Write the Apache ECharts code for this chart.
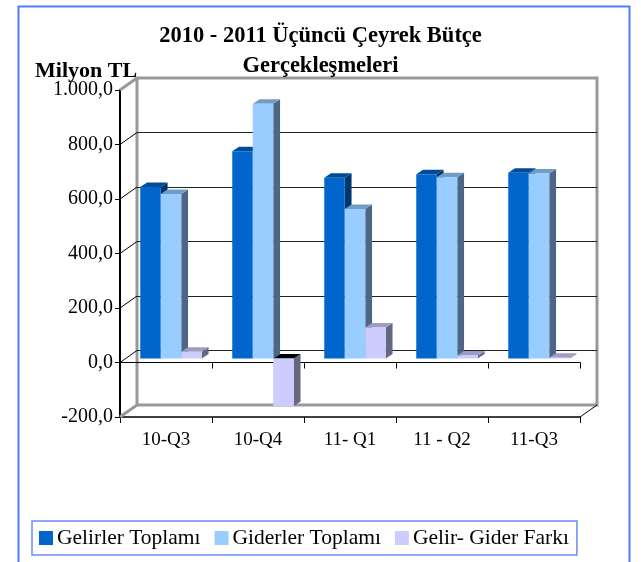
<!DOCTYPE html>
<html>
<head>
<meta charset="utf-8">
<script src="https://cdn.jsdelivr.net/npm/echarts@6/dist/echarts.min.js"></script>
<style>
html,body{margin:0;padding:0;background:#fff;}
#chart{width:641px;height:562px;}
</style>
</head>
<body>
<div id="chart"></div>
<script>
// ---- data ----
const categories = ['10-Q3', '10-Q4', '11- Q1', '11 - Q2', '11-Q3'];
const gelirler = [629, 761, 663, 676, 682];
const giderler = [604, 935, 549, 665, 679];
const fark = [25, -174, 114, 11, 3];
const seriesNames = ['Gelirler Toplamı', 'Giderler Toplamı', 'Gelir- Gider Farkı'];
const yMin = -200, yMax = 1000, yStep = 200;
const yTicks = [-200, 0, 200, 400, 600, 800, 1000];

// ---- 3D look ----
const DX = 17, DY = 12;           // wall depth
const BDX = 6.8, BDY = 4.5;       // bar depth
const SHX = 5, SHY = 4;           // bar offset from front plane
const BAR_FRAC = 0.2228;
const FONT = '"Liberation Serif", "Times New Roman", serif';

const palettes = [
  {front: '#0066CC', top: '#004C99', side: '#00366B', neg: '#000000'},
  {front: '#99CCFF', top: '#729CC6', side: '#4D6685', neg: '#000000'},
  {front: '#CCCCFF', top: '#9C9CC4', side: '#666680', neg: '#000000'}
];

function fmt(v) {
  const s = Math.abs(v).toFixed(1).split('.');
  const i = s[0].replace(/\B(?=(\d{3})+(?!\d))/g, '.');
  return (v < 0 ? '-' : '') + i + ',' + s[1];
}

function barSeries(name, values, idx) {
  const p = palettes[idx];
  return {
    name: name,
    type: 'custom',
    xAxisIndex: 0, yAxisIndex: 0,
    itemStyle: {color: p.front},
    z: 3 + idx,
    data: values.map((v, i) => [i, v]),
    renderItem: function (params, api) {
      const ci = api.value(0), v = api.value(1);
      const c = api.coord([ci, v]);
      const b = api.coord([ci, 0]);
      const band = api.size([1, 0])[0];
      const w = band * BAR_FRAC;
      const x0 = c[0] - 1.5 * w + idx * w + SHX;
      const yv = c[1] - SHY, yb = b[1] - SHY;
      const yT = Math.min(yv, yb), yB = Math.max(yv, yb);
      const topColor = v < 0 ? p.neg : p.top;
      return {
        type: 'group',
        children: [
          {type: 'polygon', shape: {points: [[x0 + w, yT], [x0 + w + BDX, yT - BDY], [x0 + w + BDX, yB - BDY], [x0 + w, yB]]},
            style: {fill: p.side}},
          {type: 'polygon', shape: {points: [[x0, yT], [x0 + w, yT], [x0 + w + BDX, yT - BDY], [x0 + BDX, yT - BDY]]},
            style: {fill: topColor}},
          {type: 'rect', shape: {x: x0, y: yT, width: w, height: Math.max(yB - yT, 0.5)},
            style: {fill: p.front}}
        ]
      };
    }
  };
}

const frameData = yTicks.map(v => [0, v, (v === yMin || v === yMax) ? 1 : 0]).concat([[0, yMin, 2]]);

const chart = echarts.init(document.getElementById('chart'), null, {renderer: 'canvas'});
const option = {
  backgroundColor: '#ffffff',
  animation: false,
  title: [
    {text: '2010 - 2011 Üçüncü Çeyrek Bütçe\nGerçekleşmeleri', left: 'center', top: 16,
      textStyle: {fontFamily: FONT, fontSize: 22.5, fontWeight: 'bold', color: '#000', lineHeight: 30}},
    {text: 'Milyon TL', left: 30, top: 55,
      textStyle: {fontFamily: FONT, fontSize: 22, fontWeight: 'bold', color: '#000'}}
  ],
  graphic: [
    {type: 'rect', left: 16, top: 4, shape: {width: 611, height: 620}, silent: true,
      style: {fill: 'none', stroke: '#4F7CFF', lineWidth: 2}}
  ],
  legend: {
    data: seriesNames,
    left: 32, top: 521,
    orient: 'horizontal',
    icon: 'rect',
    itemWidth: 14, itemHeight: 14, itemGap: 14,
    padding: [6, 8, 6, 7],
    borderColor: '#6D8CF0', borderWidth: 1.5,
    textStyle: {fontFamily: FONT, fontSize: 21.5, color: '#000', padding: [0, 0, 0, -1]}
  },
  grid: [
    {left: 120, right: 61, top: 90, bottom: 145, containLabel: false},
    {left: 120 + DX, right: 61 - DX, top: 90 - DY, bottom: 145 + DY, show: true,
      borderColor: '#999999', borderWidth: 3, backgroundColor: 'transparent'}
  ],
  xAxis: [
    {type: 'category', gridIndex: 0, data: categories, position: 'bottom',
      axisLine: {onZero: false, lineStyle: {color: '#000', width: 1.5}},
      axisTick: {show: true, length: 6, lineStyle: {color: '#000', width: 1}},
      axisLabel: {fontFamily: FONT, fontSize: 19, color: '#000', margin: 14}},
    {type: 'category', gridIndex: 0, data: categories, position: 'top',
      axisLine: {onZero: true, lineStyle: {color: '#000', width: 1}},
      axisTick: {show: true, inside: true, length: 6, lineStyle: {color: '#000', width: 1}},
      axisLabel: {show: false}},
    {type: 'category', gridIndex: 1, data: categories, show: false}
  ],
  yAxis: [
    {type: 'value', gridIndex: 0, min: yMin, max: yMax, interval: yStep,
      axisLine: {show: true, lineStyle: {color: '#000', width: 2}},
      axisTick: {show: true, length: 5, lineStyle: {color: '#000', width: 1}},
      axisLabel: {fontFamily: FONT, fontSize: 20, color: '#000', margin: 7, formatter: fmt},
      splitLine: {show: false}},
    {type: 'value', gridIndex: 1, min: yMin, max: yMax, interval: yStep,
      axisLine: {show: false}, axisTick: {show: false}, axisLabel: {show: false},
      splitLine: {show: true, showMinLine: false, showMaxLine: false, lineStyle: {color: '#222', width: 1}}}
  ],
  series: [
    {
      name: 'frame', type: 'custom', xAxisIndex: 0, yAxisIndex: 0, z: 1, silent: true,
      data: frameData,
      renderItem: function (params, api) {
        const cs = params.coordSys;
        const v = api.value(1), kind = api.value(2);
        const y = api.coord([0, v])[1];
        const x = kind === 2 ? cs.x + cs.width : cs.x;
        return {type: 'line', shape: {x1: x, y1: y, x2: x + DX, y2: y - DY},
          style: {stroke: kind === 1 ? '#999999' : '#000', lineWidth: kind === 1 ? 3 : 1}};
      }
    },
    barSeries(seriesNames[0], gelirler, 0),
    barSeries(seriesNames[1], giderler, 1),
    barSeries(seriesNames[2], fark, 2)
  ]
};
chart.setOption(option);
</script>
</body>
</html>
